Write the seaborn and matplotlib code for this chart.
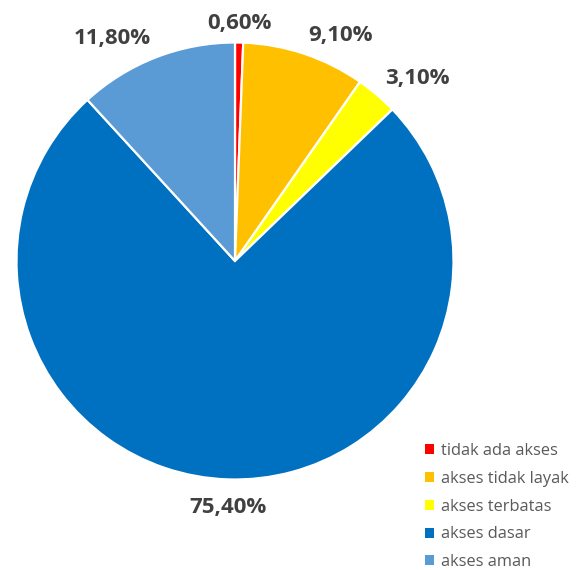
import numpy as np
import matplotlib
matplotlib.use("Agg")
import matplotlib.pyplot as plt
from matplotlib.patches import Patch
import seaborn as sns

# Access categories and their shares (percent)
categories = ["tidak ada akses", "akses tidak layak", "akses terbatas", "akses dasar", "akses aman"]
shares = [0.6, 9.1, 3.1, 75.4, 11.8]
labels = ["0,60%", "9,10%", "3,10%", "75,40%", "11,80%"]
colors = ["#FF0000", "#FFC000", "#FFFF00", "#0070C0", "#5B9BD5"]

sns.set_theme(style="white")
plt.rcParams["font.family"] = ["Open Sans", "DejaVu Sans"]

W, H = 579, 570
fig = plt.figure(figsize=(W / 100, H / 100), dpi=100)
cx, cy, r = 235, 261, 218.5
ax = fig.add_axes([(cx - r) / W, (H - cy - r) / H, 2 * r / W, 2 * r / H])

wedges, _ = ax.pie(
    shares,
    colors=colors,
    startangle=90,
    counterclock=False,
    radius=1,
    wedgeprops=dict(edgecolor="white", linewidth=1.6),
)
ax.set_xlim(-1, 1)
ax.set_ylim(-1, 1)
ax.set_aspect("equal")
ax.axis("off")

# Value labels just outside each wedge, along its mid angle
for w, lab in zip(wedges, labels):
    mid = np.deg2rad((w.theta1 + w.theta2) / 2)
    c, s = np.cos(mid), np.sin(mid)
    d = 1.06
    ha = "left" if c > 0.15 else ("right" if c < -0.15 else "center")
    va = "bottom" if s > 0 else "top"
    x, y = d * c, d * s
    ax.text(x, y - 0.02, lab, ha=ha, va=va, fontsize=16, fontweight="bold",
            color="#404040", clip_on=False)

handles = [Patch(facecolor=col, edgecolor="none") for col in colors]
leg = fig.legend(
    handles, categories,
    loc="upper left",
    bbox_to_anchor=(425 / W, 1 - 443 / H),
    frameon=False,
    fontsize=11.8,
    handlelength=0.55,
    handleheight=0.55,
    handletextpad=0.4,
    labelspacing=0.72,
    borderpad=0,
    borderaxespad=0,
)
for t in leg.get_texts():
    t.set_color("#595959")

fig.savefig("out.png", dpi=100)
